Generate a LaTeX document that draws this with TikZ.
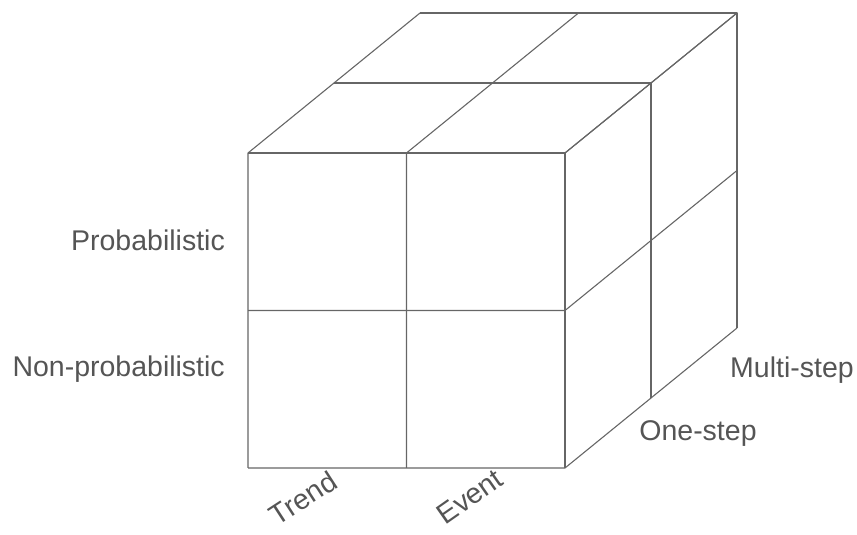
\documentclass[tikz,border=0pt]{standalone}
\usepackage{fontspec}
\setmainfont{Liberation Sans}
\usetikzlibrary{positioning}
\definecolor{edge}{HTML}{666666}
\definecolor{label}{HTML}{555555}

\begin{document}
\begin{tikzpicture}[
  x=1pt,y=1pt,
  cell/.style={draw=edge,line width=1.1pt,line join=round},
  axis/.style={text=label,font=\fontsize{28.5}{31}\selectfont,inner sep=0pt},
]
  \useasboundingbox (0,0) rectangle (857,535);

  % 2x2x2 cube, origin at the front bottom left corner
  \begin{scope}[shift={(248,67)},x={(158.5pt,0pt)},y={(0pt,157.5pt)},z={(-86pt,-70pt)}]
    \foreach \i in {0,1,2} {
      \draw[cell] (\i,0,0) -- (\i,2,0) -- (\i,2,-2);
      \draw[cell] (0,\i,0) -- (2,\i,0) -- (2,\i,-2);
      \draw[cell] (0,2,-\i) -- (2,2,-\i) -- (2,0,-\i);
    }
  \end{scope}

  \node[axis,anchor=east] (prob) at (225,295) {Probabilistic};
  \node[axis,anchor=east] (nonprob) at (225,166) {Non-probabilistic};
  \node[axis] (multi) at (792,165) {Multi-step};
  \node[axis] (one) at (698,101) {One-step};
  \node[axis,rotate=33] (trend) at (303,37) {Trend};
  \node[axis,rotate=35] (event) at (470,38) {Event};
\end{tikzpicture}
\end{document}
